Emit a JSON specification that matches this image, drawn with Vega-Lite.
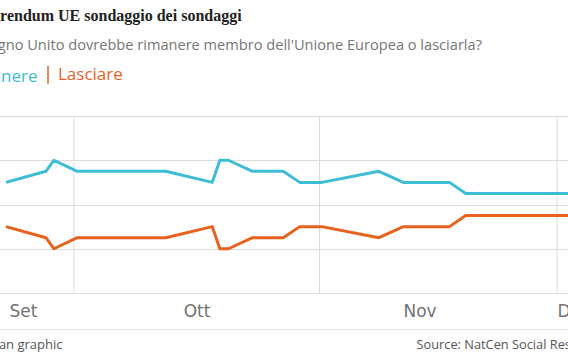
{
  "$schema": "https://vega.github.io/schema/vega-lite/v6.json",
  "width": 640,
  "height": 177,
  "autosize": {"type": "none"},
  "padding": {"left": -40, "top": 116, "right": -32, "bottom": 69},
  "background": "white",
  "title": {
    "text": "Referendum UE sondaggio dei sondaggi",
    "subtitle": "Il Regno Unito dovrebbe rimanere membro dell'Unione Europea o lasciarla?",
    "anchor": "start",
    "frame": "group",
    "dx": 9,
    "offset": 12,
    "font": "Liberation Serif",
    "fontSize": 16,
    "fontWeight": "bold",
    "color": "#222222",
    "subtitleFont": "Open Sans",
    "subtitleFontSize": 14.6,
    "subtitleColor": "#767676",
    "subtitlePadding": 14
  },
  "config": {"view": {"stroke": null}},
  "resolve": {"axis": {"x": "independent"}},
  "layer": [
    {
      "data": {"values": [
        {"date": "2015-10-01T00:00"},
        {"date": "2015-11-01T00:00"},
        {"date": "2015-12-01T00:00"}
      ]},
      "mark": {"type": "rule", "color": "#dcdcdc", "strokeWidth": 1},
      "encoding": {
        "x": {
          "field": "date",
          "type": "temporal",
          "scale": {"domain": [
            {"year": 2015, "month": 9, "date": 16, "hours": 14, "minutes": 33},
            {"year": 2015, "month": 12, "date": 6, "hours": 9, "minutes": 56}
          ]},
          "axis": {
            "orient": "bottom",
            "offset": 36,
            "domain": true,
            "domainColor": "#e6e6e6",
            "domainWidth": 1,
            "labels": false,
            "ticks": false,
            "grid": false,
            "title": "Source: NatCen Social Research",
            "titleX": 456,
            "titleY": 19,
            "titleAlign": "left",
            "titleBaseline": "alphabetic",
            "titleFont": "Open Sans",
            "titleFontSize": 12.8,
            "titleFontWeight": "normal",
            "titleColor": "#555555"
          }
        }
      }
    },
    {
      "data": {"values": [
        {"date": "2015-09-22T10:00", "serie": "Rimanere", "valore": 52},
        {"date": "2015-09-27T11:00", "serie": "Rimanere", "valore": 53},
        {"date": "2015-09-28T11:00", "serie": "Rimanere", "valore": 54},
        {"date": "2015-10-01T10:00", "serie": "Rimanere", "valore": 53},
        {"date": "2015-10-12T14:00", "serie": "Rimanere", "valore": 53},
        {"date": "2015-10-18T11:00", "serie": "Rimanere", "valore": 52},
        {"date": "2015-10-19T10:00", "serie": "Rimanere", "valore": 54},
        {"date": "2015-10-20T12:00", "serie": "Rimanere", "valore": 54},
        {"date": "2015-10-23T13:00", "serie": "Rimanere", "valore": 53},
        {"date": "2015-10-27T10:00", "serie": "Rimanere", "valore": 53},
        {"date": "2015-10-29T12:00", "serie": "Rimanere", "valore": 52},
        {"date": "2015-11-01T07:00", "serie": "Rimanere", "valore": 52},
        {"date": "2015-11-08T12:00", "serie": "Rimanere", "valore": 53},
        {"date": "2015-11-11T14:00", "serie": "Rimanere", "valore": 52},
        {"date": "2015-11-17T10:00", "serie": "Rimanere", "valore": 52},
        {"date": "2015-11-19T11:00", "serie": "Rimanere", "valore": 51},
        {"date": "2015-12-06T00:00", "serie": "Rimanere", "valore": 51},
        {"date": "2015-09-22T10:00", "serie": "Lasciare", "valore": 48},
        {"date": "2015-09-27T11:00", "serie": "Lasciare", "valore": 47},
        {"date": "2015-09-28T11:00", "serie": "Lasciare", "valore": 46},
        {"date": "2015-10-01T10:00", "serie": "Lasciare", "valore": 47},
        {"date": "2015-10-12T14:00", "serie": "Lasciare", "valore": 47},
        {"date": "2015-10-18T11:00", "serie": "Lasciare", "valore": 48},
        {"date": "2015-10-19T10:00", "serie": "Lasciare", "valore": 46},
        {"date": "2015-10-20T12:00", "serie": "Lasciare", "valore": 46},
        {"date": "2015-10-23T13:00", "serie": "Lasciare", "valore": 47},
        {"date": "2015-10-27T10:00", "serie": "Lasciare", "valore": 47},
        {"date": "2015-10-29T12:00", "serie": "Lasciare", "valore": 48},
        {"date": "2015-11-01T07:00", "serie": "Lasciare", "valore": 48},
        {"date": "2015-11-08T12:00", "serie": "Lasciare", "valore": 47},
        {"date": "2015-11-11T14:00", "serie": "Lasciare", "valore": 48},
        {"date": "2015-11-17T10:00", "serie": "Lasciare", "valore": 48},
        {"date": "2015-11-19T11:00", "serie": "Lasciare", "valore": 49},
        {"date": "2015-12-06T00:00", "serie": "Lasciare", "valore": 49}
      ]},
      "mark": {"type": "line", "strokeWidth": 3, "strokeJoin": "round"},
      "encoding": {
        "x": {
          "field": "date",
          "type": "temporal",
          "axis": {
            "orient": "bottom",
            "values": [
              {"year": 2015, "month": 9, "date": 24, "hours": 13, "minutes": 26},
              {"year": 2015, "month": 10, "date": 16, "hours": 11, "minutes": 15},
              {"year": 2015, "month": 11, "date": 13, "hours": 15},
              {"year": 2015, "month": 12, "date": 2, "hours": 16, "minutes": 30}
            ],
            "labelExpr": "['Gen','Feb','Mar','Apr','Mag','Giu','Lug','Ago','Set','Ott','Nov','Dic'][month(datum.value)]",
            "grid": false,
            "ticks": false,
            "domain": false,
            "labelFont": "DejaVu Sans",
            "labelFontSize": 17,
            "labelColor": "#727272",
            "labelAlign": "center",
            "labelBaseline": "alphabetic",
            "labelPadding": 23,
            "labelFlush": false,
            "labelOverlap": false,
            "title": "Guardian graphic",
            "titleX": 102,
            "titleY": 55,
            "titleAlign": "right",
            "titleBaseline": "alphabetic",
            "titleFont": "Open Sans",
            "titleFontSize": 13,
            "titleFontWeight": "normal",
            "titleColor": "#555555"
          }
        },
        "y": {
          "field": "valore",
          "type": "quantitative",
          "scale": {"domain": [42, 58], "nice": false, "zero": false},
          "axis": {
            "values": [42, 46, 50, 54, 58],
            "grid": true,
            "gridColor": "#dcdcdc",
            "gridWidth": 1,
            "labels": false,
            "ticks": false,
            "domain": false,
            "title": null
          }
        },
        "color": {
          "field": "serie",
          "type": "nominal",
          "scale": {"domain": ["Rimanere", "Lasciare"], "range": ["#3dbcd6", "#e7621f"]},
          "legend": {
            "orient": "none",
            "legendX": -19,
            "legendY": -51,
            "direction": "horizontal",
            "title": null,
            "padding": 0,
            "symbolType": "M0,-1L0,1",
            "symbolSize": 324,
            "symbolStrokeWidth": 1.5,
            "labelFont": "Open Sans",
            "labelFontSize": 17,
            "labelOffset": 0,
            "columnPadding": 0,
            "labelLimit": 0,
            "encode": {
              "labels": {"update": {"fill": {"signal": "datum.value === 'Rimanere' ? '#3dbcd6' : '#e7621f'"}}},
              "symbols": {"update": {"stroke": {"value": "#777777"}, "fill": {"value": "transparent"}, "opacity": {"signal": "datum.value === 'Rimanere' ? 0 : 1"}}}
            }
          }
        }
      }
    }
  ]
}
